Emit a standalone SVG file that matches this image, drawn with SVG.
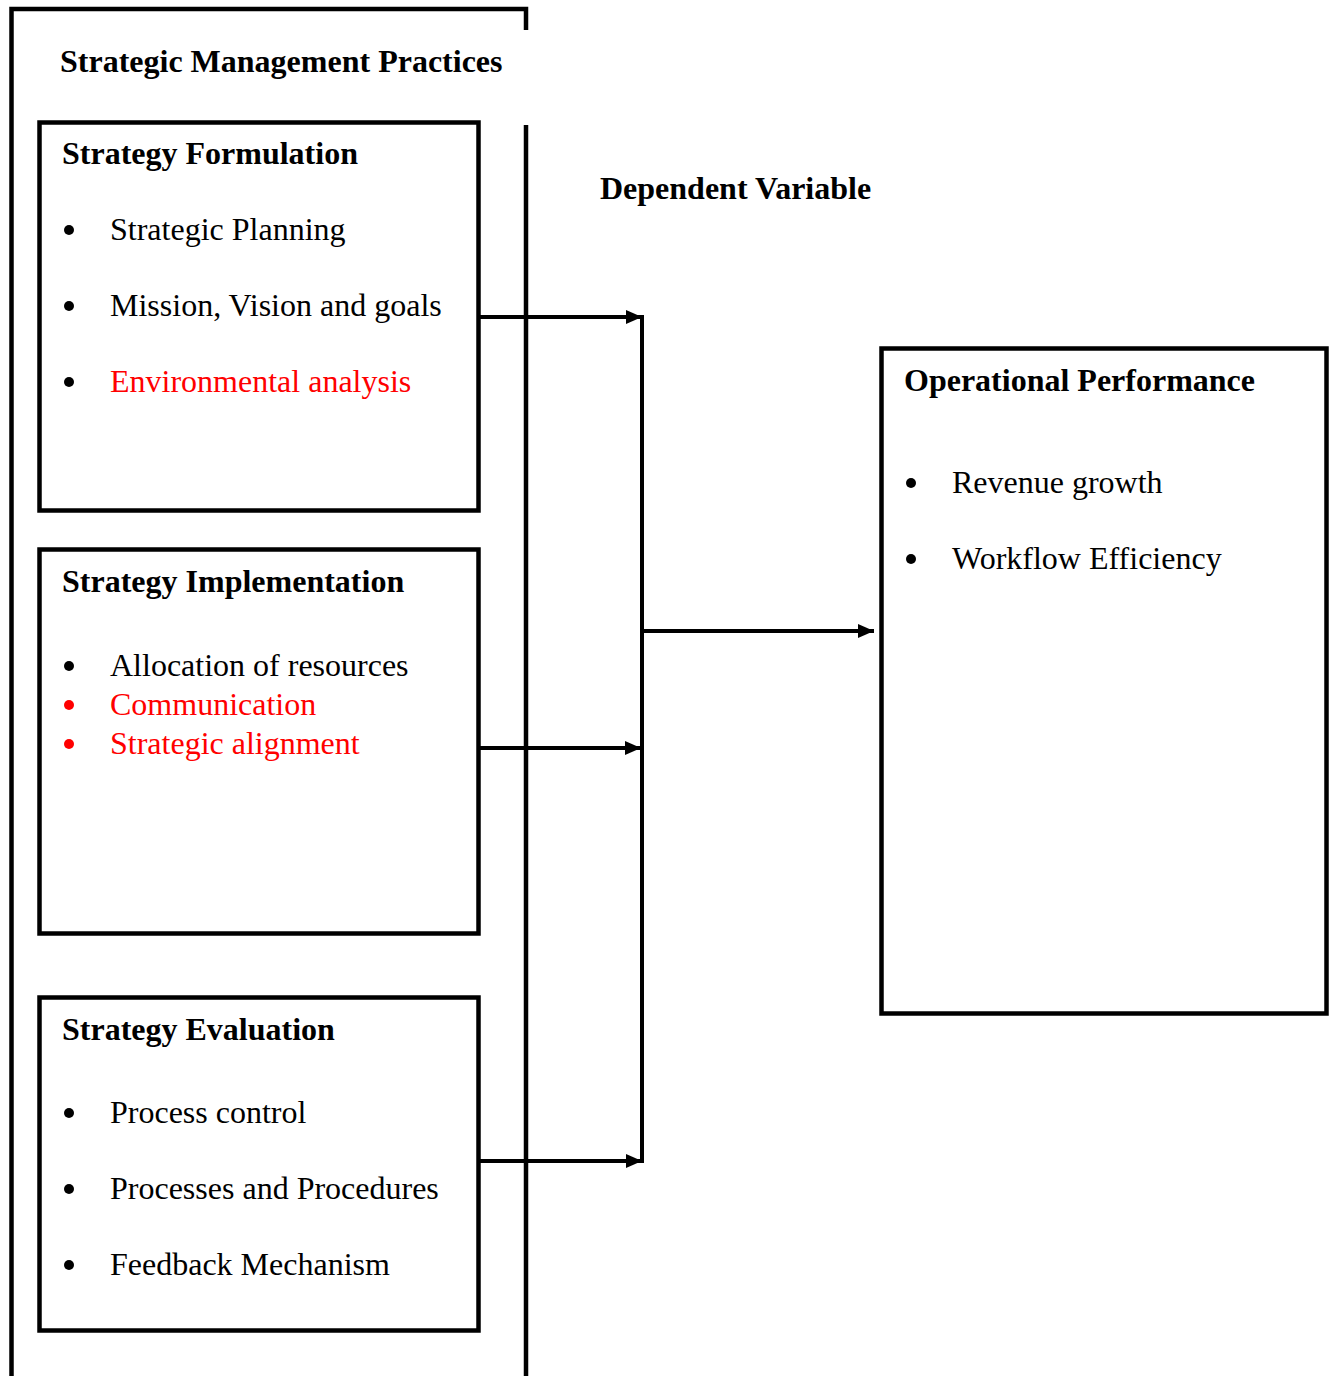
<svg xmlns="http://www.w3.org/2000/svg" width="1330" height="1376" viewBox="0 0 1330 1376">
<style>
.box{fill:none;stroke:#000;stroke-width:4.5}
.ln{fill:none;stroke:#000;stroke-width:4}
.t{font-family:"Liberation Serif","Times New Roman",serif;font-size:32px;fill:#000}
.b{font-weight:bold}
.r{fill:#ff0000}
</style>
<defs>
<marker id="ah" markerWidth="16" markerHeight="14" refX="16" refY="7" orient="auto" markerUnits="userSpaceOnUse">
<path d="M0,0 L16,7 L0,14 Z" fill="#000"/>
</marker>
</defs>
<rect width="1330" height="1376" fill="#fff"/>
<g id="outer">
<path class="box" d="M11.5,1376 L11.5,9 L526,9 L526,30"/>
<path class="box" d="M526,125 L526,1376"/>
<text class="t b" x="60" y="72">Strategic Management Practices</text>
</g>
<g id="formulation">
<rect class="box" x="39.5" y="122.5" width="439" height="388"/>
<text class="t b" x="62" y="164">Strategy Formulation</text>
<circle cx="69" cy="230" r="5"/>
<text class="t" x="110" y="240">Strategic Planning</text>
<circle cx="69" cy="306" r="5"/>
<text class="t" x="110" y="316">Mission, Vision and goals</text>
<circle cx="69" cy="382" r="5"/>
<text class="t r" x="110" y="392">Environmental analysis</text>
</g>
<g id="implementation">
<rect class="box" x="39.5" y="549.5" width="439" height="384"/>
<text class="t b" x="62" y="592">Strategy Implementation</text>
<circle cx="69" cy="666" r="5"/>
<text class="t" x="110" y="676">Allocation of resources</text>
<circle cx="69" cy="705" r="5" fill="#ff0000"/>
<text class="t r" x="110" y="715">Communication</text>
<circle cx="69" cy="744" r="5" fill="#ff0000"/>
<text class="t r" x="110" y="754">Strategic alignment</text>
</g>
<g id="evaluation">
<rect class="box" x="39.5" y="997.5" width="439" height="333"/>
<text class="t b" x="62" y="1040">Strategy Evaluation</text>
<circle cx="69" cy="1113" r="5"/>
<text class="t" x="110" y="1123">Process control</text>
<circle cx="69" cy="1189" r="5"/>
<text class="t" x="110" y="1199">Processes and Procedures</text>
<circle cx="69" cy="1265" r="5"/>
<text class="t" x="110" y="1275">Feedback Mechanism</text>
</g>
<g id="dependent-label">
<text class="t b" x="600" y="199">Dependent Variable</text>
</g>
<g id="performance">
<rect class="box" x="881.5" y="348.5" width="445" height="665"/>
<text class="t b" x="904" y="391">Operational Performance</text>
<circle cx="911" cy="483" r="5"/>
<text class="t" x="952" y="493">Revenue growth</text>
<circle cx="911" cy="559" r="5"/>
<text class="t" x="952" y="569">Workflow Efficiency</text>
</g>
<g id="connectors">
<line class="ln" x1="479" y1="317" x2="642" y2="317" marker-end="url(#ah)"/>
<line class="ln" x1="479" y1="748" x2="641" y2="748" marker-end="url(#ah)"/>
<line class="ln" x1="479" y1="1161" x2="642" y2="1161" marker-end="url(#ah)"/>
<line class="ln" x1="642" y1="315" x2="642" y2="1163"/>
<line class="ln" x1="642" y1="631" x2="874" y2="631" marker-end="url(#ah)"/>
</g>
</svg>
